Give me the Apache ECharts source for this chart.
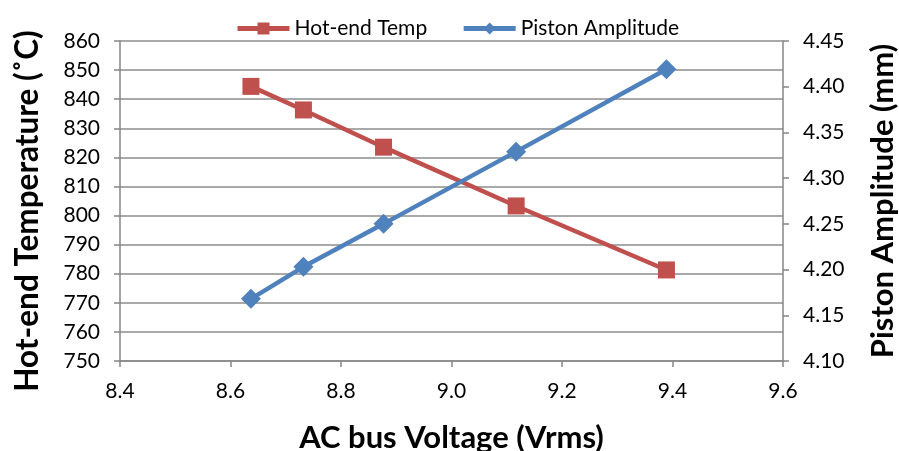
<!DOCTYPE html>
<html><head><meta charset="utf-8">
<script src="https://cdn.jsdelivr.net/npm/echarts@6/dist/echarts.min.js"></script>
<style>html,body{margin:0;padding:0;background:#fff}#c{width:899px;height:451px}</style>
</head><body><div id="c"></div>
<script>
const voltage = [8.637, 8.732, 8.877, 9.117, 9.389];
const hotEndTemp = [844.4, 836.3, 823.5, 803.3, 781.3];
const pistonAmp = [4.168, 4.203, 4.250, 4.329, 4.419];
const seriesNames = ['Hot-end Temp', 'Piston Amplitude'];

const FONT = 'Lato';
const chart = echarts.init(document.getElementById('c'));
const axisLine = {show: true, lineStyle: {color: '#868686', width: 1.5}};
const axisTick = {show: true, length: 6, lineStyle: {color: '#868686', width: 1.5}};
chart.setOption({
  animation: false,
  textStyle: {fontFamily: FONT},
  legend: {
    top: 13, left: 230, itemWidth: 52, itemHeight: 15, itemGap: 34,
    lineStyle: {width: 5},
    textStyle: {fontFamily: FONT, fontSize: 21, color: '#000'},
    data: seriesNames
  },
  grid: {left: 120, right: 116, top: 41, bottom: 90, containLabel: false, outerBoundsMode: 'none'},
  xAxis: {
    type: 'value', min: 8.4, max: 9.6, interval: 0.2,
    axisLine, axisTick,
    splitLine: {show: false},
    axisLabel: {fontFamily: FONT, fontSize: 21, color: '#000', margin: 20, formatter: v => v.toFixed(1)},
    name: 'AC bus Voltage (Vrms)', nameLocation: 'middle', nameGap: 61,
    nameTextStyle: {fontFamily: FONT, fontSize: 31, fontWeight: 'bold', color: '#000'}
  },
  yAxis: [{
    type: 'value', min: 750, max: 860, interval: 10,
    axisLine, axisTick,
    splitLine: {show: true, lineStyle: {color: '#8c8c8c', width: 1.5}},
    axisLabel: {fontFamily: FONT, fontSize: 21, color: '#000', margin: 20},
    name: 'Hot-end Temperature (˚C)', nameLocation: 'middle', nameGap: 76,
    nameTextStyle: {fontFamily: FONT, fontSize: 31.5, fontWeight: 'bold', color: '#000', padding: [0, 20, 0, 0]}
  }, {
    type: 'value', min: 4.10, max: 4.45, interval: 0.05, position: 'right',
    axisLine, axisTick,
    splitLine: {show: false},
    axisLabel: {fontFamily: FONT, fontSize: 21, color: '#000', margin: 20, formatter: v => v.toFixed(2)},
    name: 'Piston Amplitude (mm)', nameLocation: 'middle', nameGap: 84, nameRotate: 90,
    nameTextStyle: {fontFamily: FONT, fontSize: 31, fontWeight: 'bold', color: '#000'}
  }],
  series: [{
    name: seriesNames[0], type: 'line', yAxisIndex: 0,
    data: voltage.map((v, i) => [v, hotEndTemp[i]]),
    symbol: 'rect', symbolSize: 17,
    lineStyle: {color: '#C0504D', width: 4.5},
    itemStyle: {color: '#C0504D'}
  }, {
    name: seriesNames[1], type: 'line', yAxisIndex: 1,
    data: voltage.map((v, i) => [v, pistonAmp[i]]),
    symbol: 'diamond', symbolSize: 20,
    lineStyle: {color: '#4F81BD', width: 4.5},
    itemStyle: {color: '#4F81BD'}
  }]
});
</script></body></html>
